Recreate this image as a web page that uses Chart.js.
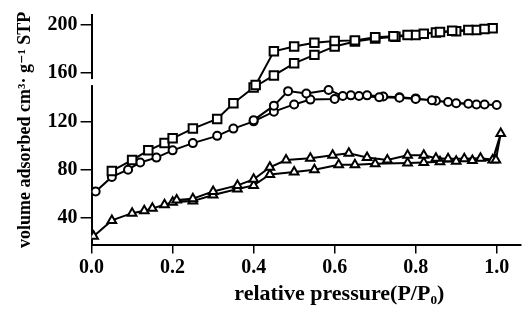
<!DOCTYPE html>
<html lang="en">
<head>
  <meta charset="UTF-8" />
  <title>Isotherms</title>
  <script src="https://cdn.jsdelivr.net/npm/chart.js@4.4.1/dist/chart.umd.min.js"></script>
  <style>
    html, body { margin: 0; padding: 0; background: #fff; }
    #wrap { width: 529px; height: 325px; }
  </style>
</head>
<body>
  <div id="wrap"><canvas id="iso"></canvas></div>

  <script>
    // each sample: adsorption branch up to P/P0 ~ 1, then desorption back down
    const squareX = [0.05, 0.10, 0.14, 0.18, 0.20, 0.25, 0.31, 0.35, 0.40, 0.45, 0.50, 0.55, 0.60, 0.65, 0.70, 0.75, 0.80, 0.85, 0.90, 0.95, 0.99,
                     0.97, 0.93, 0.89, 0.86, 0.82, 0.78, 0.745, 0.70, 0.65, 0.60, 0.55, 0.50, 0.45, 0.405];
    const squareY = [79, 88, 96, 102, 106, 114, 122, 135, 148, 158, 168, 175, 182, 186, 188.5, 190, 191.5, 193.5, 194.5, 195.5, 197,
                     196.5, 195.5, 195, 194, 192.5, 191.5, 190.5, 189.5, 187, 186.5, 185, 182, 178, 150];

    const circleX = [0.01, 0.05, 0.09, 0.12, 0.16, 0.20, 0.25, 0.31, 0.35, 0.40, 0.45, 0.50, 0.54, 0.60, 0.64, 0.68, 0.72, 0.76, 0.80, 0.85, 0.90, 0.95, 1.00,
                     0.97, 0.93, 0.88, 0.84, 0.80, 0.76, 0.71, 0.66, 0.62, 0.585, 0.53, 0.485, 0.45, 0.40];
    const circleY = [62, 74, 80, 86, 90, 96, 102, 108, 114, 120, 128, 134, 138, 138.5, 141.5, 141.5, 140.5, 140, 139, 137, 135, 134, 133.5,
                     134, 134.5, 136, 137.5, 138.5, 139.5, 140, 141, 141, 146, 143, 145, 133, 121];

    const triangleX = [0.005, 0.05, 0.10, 0.13, 0.15, 0.18, 0.20, 0.25, 0.30, 0.36, 0.40, 0.44, 0.50, 0.55, 0.61, 0.65, 0.70, 0.78, 0.82, 0.86, 0.90, 0.94, 0.99, 1.01,
                       0.998, 0.96, 0.92, 0.88, 0.85, 0.82, 0.78, 0.73, 0.68, 0.635, 0.595, 0.54, 0.48, 0.44, 0.40, 0.36, 0.30, 0.25, 0.21];
    const triangleY = [25, 38, 44, 46, 48, 51, 53, 54, 59, 64, 67, 76, 78, 80, 84, 84, 85, 85.5, 86, 86.5, 87, 87.5, 88, 110,
                       88, 89.5, 89, 89, 89.5, 92, 92, 88, 90, 93.5, 92, 89.5, 88, 82, 72, 67, 62, 56, 55];

    const xTicks = [0.0, 0.2, 0.4, 0.6, 0.8, 1.0];
    const yTicks = [40, 80, 120, 160, 200];

    const toPoints = (xs, ys) => xs.map((x, i) => ({ x, y: ys[i] }));

    const serif = '"Liberation Serif", "DejaVu Serif", serif';
    const tickFont = { family: serif, size: 20, weight: 'bold' };

    function series(data, style, radius) {
      return {
        data,
        borderColor: '#000',
        borderWidth: 2,
        pointStyle: style,
        pointRadius: radius,
        pointBorderWidth: 2,
        pointBackgroundColor: '#fff',
        pointBorderColor: '#000',
        tension: 0
      };
    }

    // small break in the y axis line between 150 and 155
    const axisBreak = {
      id: 'axisBreak',
      afterDraw(chart) {
        const y = chart.scales.y;
        const top = y.getPixelForValue(155);
        const bot = y.getPixelForValue(150);
        const ctx = chart.ctx;
        ctx.save();
        ctx.fillStyle = '#fff';
        ctx.fillRect(chart.chartArea.left - 3, top, 6, bot - top);
        ctx.restore();
      }
    };

    new Chart(document.getElementById('iso'), {
      type: 'line',
      data: {
        datasets: [
          series(toPoints(squareX, squareY), 'rect', 6),
          series(toPoints(circleX, circleY), 'circle', 4),
          series(toPoints(triangleX, triangleY), 'triangle', 5)
        ]
      },
      options: {
        responsive: true,
        maintainAspectRatio: false,
        animation: false,
        layout: { padding: { top: 8, right: 2, left: 15, bottom: 17 } },
        plugins: { legend: { display: false }, tooltip: { enabled: false } },
        scales: {
          x: {
            type: 'linear',
            min: 0,
            max: 1.06,
            afterBuildTicks: s => { s.ticks = xTicks.map(v => ({ value: v })); },
            border: { color: '#000', width: 2 },
            grid: { drawOnChartArea: false, tickLength: 9, color: '#000', lineWidth: 1.5 },
            ticks: { color: '#000', font: tickFont, padding: 2, maxRotation: 0, callback: v => v.toFixed(1) },
            // leading spaces push the title a little right of centre
            title: { display: true, text: '            relative pressure(P/P\u2080)', color: '#000', font: { family: serif, size: 22, weight: 'bold' }, padding: { top: 0, bottom: 0 } }
          },
          y: {
            min: 18,
            max: 208,
            afterBuildTicks: s => { s.ticks = yTicks.map(v => ({ value: v })); },
            border: { color: '#000', width: 2 },
            grid: { drawOnChartArea: false, tickLength: 11, color: '#000', lineWidth: 1.5 },
            ticks: { color: '#000', font: tickFont, padding: 3 },
            title: { display: true, text: 'volume adsorbed cm\u00b3\u00b7 g\u207b\u00b9 STP', color: '#000', font: { family: serif, size: 18, weight: 'bold' }, padding: { top: 0, bottom: 8 } }
          }
        }
      },
      plugins: [axisBreak]
    });
  </script>
</body>
</html>
